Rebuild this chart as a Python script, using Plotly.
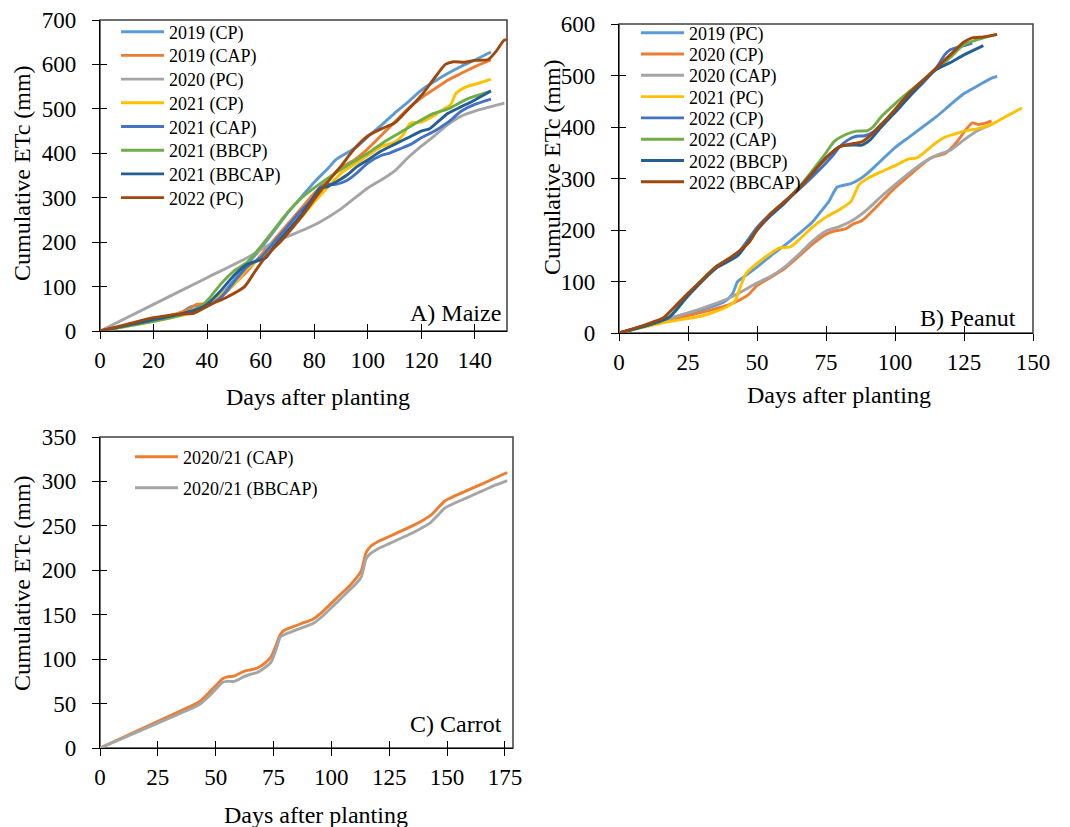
import plotly.graph_objects as go

# ---------------- Panel A: Maize ----------------
maize_2019_cp_day = [0, 10, 20, 30, 34, 38, 45, 50, 55, 60, 65, 70, 75, 80, 85, 88, 92, 96, 100, 105, 110, 115, 120, 125, 130, 135, 140, 146]
maize_2019_cp_etc = [0, 12, 25, 40, 55, 58, 80, 115, 150, 185, 225, 265, 300, 335, 365, 385, 400, 415, 437, 463, 490, 515, 542, 562, 580, 596, 610, 628]

maize_2019_cap_day = [0, 20, 33, 36, 40, 45, 50, 55, 60, 65, 70, 75, 80, 85, 90, 95, 100, 105, 110, 115, 120, 125, 130, 135, 140, 146]
maize_2019_cap_etc = [0, 25, 48, 60, 62, 75, 105, 135, 170, 205, 240, 275, 310, 340, 368, 385, 410, 440, 470, 500, 525, 545, 565, 580, 595, 610]

maize_2020_pc_day = [0, 20, 40, 55, 65, 75, 82, 90, 100, 105, 110, 115, 120, 125, 130, 135, 140, 146, 151]
maize_2020_pc_etc = [0, 60, 120, 165, 200, 225, 245, 275, 322, 340, 360, 390, 416, 440, 465, 484, 495, 505, 513]

maize_2021_cp_day = [0, 20, 35, 40, 45, 50, 55, 60, 65, 70, 75, 80, 83, 86, 90, 95, 100, 105, 110, 113, 116, 120, 124, 128, 131, 133, 137, 141, 146]
maize_2021_cp_etc = [0, 22, 42, 58, 80, 105, 140, 165, 195, 225, 255, 290, 310, 330, 355, 375, 395, 415, 425, 440, 468, 470, 482, 498, 510, 535, 550, 557, 567]

maize_2021_cap_day = [0, 20, 35, 40, 45, 50, 55, 60, 65, 70, 75, 80, 82, 85, 88, 92, 96, 100, 105, 108, 112, 116, 120, 125, 130, 135, 140, 146]
maize_2021_cap_etc = [0, 25, 45, 55, 75, 110, 145, 165, 200, 235, 270, 300, 322, 330, 330, 338, 356, 378, 395, 400, 410, 420, 435, 450, 470, 495, 510, 522]

maize_2021_bbcp_day = [0, 20, 30, 38, 41, 45, 50, 55, 60, 65, 70, 75, 80, 87, 93, 100, 106, 112, 118, 124, 130, 137, 146]
maize_2021_bbcp_etc = [0, 22, 35, 57, 75, 105, 135, 155, 190, 228, 266, 298, 322, 352, 375, 400, 425, 446, 468, 488, 500, 522, 540]

maize_2021_bbcap_day = [0, 20, 30, 36, 40, 45, 50, 55, 60, 62, 65, 70, 75, 79, 82, 85, 88, 92, 96, 100, 105, 110, 115, 120, 123, 126, 130, 135, 140, 146]
maize_2021_bbcap_etc = [0, 25, 38, 48, 60, 90, 125, 150, 160, 165, 190, 225, 260, 295, 320, 325, 335, 350, 370, 385, 405, 420, 435, 450, 455, 470, 490, 505, 520, 540]

maize_2022_pc_day = [0, 10, 20, 30, 35, 41, 47, 54, 58, 62, 68, 75, 80, 85, 90, 95, 100, 105, 110, 115, 120, 125, 129, 132, 136, 140, 145, 148, 151, 152]
maize_2022_pc_etc = [0, 15, 30, 38, 40, 59, 75, 100, 135, 168, 205, 255, 296, 335, 371, 410, 439, 455, 468, 498, 530, 570, 600, 606, 605, 609, 611, 630, 655, 655]

# ---------------- Panel B: Peanut ----------------
peanut_2019_pc_day = [0, 18, 30, 38, 41, 43, 45, 50, 55, 60, 65, 70, 73, 76, 79, 84, 87, 90, 95, 100, 105, 110, 115, 120, 125, 130, 135, 137]
peanut_2019_pc_etc = [0, 28, 45, 60, 75, 100, 108, 128, 150, 170, 192, 215, 235, 255, 283, 290, 298, 310, 335, 360, 380, 400, 420, 443, 465, 480, 495, 498]

peanut_2020_cp_day = [0, 18, 30, 40, 43, 47, 50, 55, 60, 65, 70, 75, 78, 82, 85, 88, 92, 96, 100, 105, 110, 113, 116, 118, 120, 123, 125, 128, 130, 133, 135]
peanut_2020_cp_etc = [0, 25, 40, 55, 62, 75, 92, 108, 125, 148, 172, 192, 198, 202, 212, 218, 238, 260, 282, 305, 328, 340, 345, 348, 357, 375, 390, 408, 405, 408, 412]

peanut_2020_cap_day = [0, 18, 30, 40, 45, 50, 55, 60, 65, 70, 75, 80, 85, 90, 95, 100, 105, 110, 115, 120, 125, 130, 135]
peanut_2020_cap_etc = [0, 28, 48, 68, 82, 97, 110, 128, 152, 178, 198, 207, 220, 240, 265, 288, 310, 330, 345, 355, 375, 393, 405]

peanut_2021_pc_day = [0, 18, 30, 38, 42, 44, 46, 50, 55, 58, 62, 65, 70, 75, 80, 84, 87, 90, 95, 100, 105, 108, 110, 115, 118, 122, 125, 130, 135, 140, 146]
peanut_2021_pc_etc = [0, 22, 33, 48, 62, 90, 115, 135, 155, 165, 167, 180, 205, 225, 240, 255, 288, 300, 313, 325, 338, 340, 348, 370, 380, 387, 392, 397, 405, 420, 437]

peanut_2022_cp_day = [0, 18, 25, 35, 43, 50, 55, 60, 65, 70, 75, 78, 80, 83, 86, 89, 92, 95, 100, 105, 110, 115, 118, 120, 125, 128]
peanut_2022_cp_etc = [0, 30, 75, 128, 155, 205, 232, 255, 278, 303, 330, 348, 362, 375, 382, 383, 390, 405, 430, 458, 485, 515, 540, 550, 558, 563]

peanut_2022_cap_day = [0, 18, 25, 35, 43, 50, 55, 60, 65, 70, 75, 78, 82, 86, 90, 92, 95, 100, 105, 110, 115, 120, 125, 130, 137]
peanut_2022_cap_etc = [0, 30, 75, 128, 152, 200, 232, 255, 282, 315, 350, 372, 385, 392, 393, 400, 420, 445, 468, 490, 512, 535, 560, 570, 580]

peanut_2022_bbcp_day = [0, 18, 25, 35, 43, 50, 55, 60, 65, 70, 75, 80, 85, 88, 91, 95, 100, 105, 110, 115, 120, 125, 132]
peanut_2022_bbcp_etc = [0, 30, 72, 125, 150, 200, 228, 252, 280, 310, 340, 362, 365, 365, 375, 400, 428, 458, 488, 512, 525, 540, 558]

peanut_2022_bbcap_day = [0, 10, 16, 20, 25, 30, 35, 41, 47, 50, 55, 60, 65, 70, 75, 80, 85, 88, 92, 96, 100, 105, 110, 115, 120, 125, 128, 132, 137]
peanut_2022_bbcap_etc = [0, 17, 29, 50, 77, 102, 128, 149, 175, 200, 232, 255, 280, 310, 340, 362, 368, 371, 388, 410, 434, 465, 490, 515, 540, 565, 573, 575, 580]

# ---------------- Panel C: Carrot ----------------
carrot_cap_day = [0, 25, 40, 43, 47, 50, 53, 55, 58, 62, 65, 68, 71, 74, 76, 78, 80, 84, 88, 92, 96, 100, 104, 108, 111, 113, 114, 115, 117, 120, 125, 130, 135, 140, 143, 146, 149, 152, 158, 165, 170, 176]
carrot_cap_etc = [0, 30, 48, 52, 62, 70, 78, 80, 81, 86, 88, 90, 95, 103, 115, 128, 133, 137, 141, 145, 153, 163, 173, 183, 192, 200, 210, 220, 227, 232, 238, 244, 250, 257, 262, 270, 278, 282, 289, 297, 303, 310]

carrot_bbcap_day = [0, 25, 40, 43, 47, 50, 53, 55, 58, 62, 65, 68, 71, 74, 76, 78, 80, 84, 88, 92, 96, 100, 104, 108, 111, 113, 114, 115, 117, 120, 125, 130, 135, 140, 143, 146, 149, 152, 158, 165, 170, 176]
carrot_bbcap_etc = [0, 28, 45, 49, 58, 66, 74, 75, 75, 80, 83, 85, 90, 97, 110, 125, 128, 132, 136, 140, 148, 158, 168, 178, 186, 193, 203, 213, 219, 224, 230, 236, 242, 249, 254, 262, 270, 274, 281, 289, 295, 301]

# ---------------- styles ----------------
C_LBLUE = "#5B9BD5"
C_ORANGE = "#ED7D31"
C_GRAY = "#A5A5A5"
C_GOLD = "#FFC000"
C_BLUE = "#4472C4"
C_GREEN = "#70AD47"
C_DBLUE = "#255E91"
C_BROWN = "#9E480E"

FONT = "Liberation Serif, Times New Roman, serif"
W, H = 1070, 827

panel_a = [
    ("2019 (CP)", maize_2019_cp_day, maize_2019_cp_etc, C_LBLUE),
    ("2019 (CAP)", maize_2019_cap_day, maize_2019_cap_etc, C_ORANGE),
    ("2020 (PC)", maize_2020_pc_day, maize_2020_pc_etc, C_GRAY),
    ("2021 (CP)", maize_2021_cp_day, maize_2021_cp_etc, C_GOLD),
    ("2021 (CAP)", maize_2021_cap_day, maize_2021_cap_etc, C_BLUE),
    ("2021 (BBCP)", maize_2021_bbcp_day, maize_2021_bbcp_etc, C_GREEN),
    ("2021 (BBCAP)", maize_2021_bbcap_day, maize_2021_bbcap_etc, C_DBLUE),
    ("2022 (PC)", maize_2022_pc_day, maize_2022_pc_etc, C_BROWN),
]
panel_b = [
    ("2019 (PC)", peanut_2019_pc_day, peanut_2019_pc_etc, C_LBLUE),
    ("2020 (CP)", peanut_2020_cp_day, peanut_2020_cp_etc, C_ORANGE),
    ("2020 (CAP)", peanut_2020_cap_day, peanut_2020_cap_etc, C_GRAY),
    ("2021 (PC)", peanut_2021_pc_day, peanut_2021_pc_etc, C_GOLD),
    ("2022 (CP)", peanut_2022_cp_day, peanut_2022_cp_etc, C_BLUE),
    ("2022 (CAP)", peanut_2022_cap_day, peanut_2022_cap_etc, C_GREEN),
    ("2022 (BBCP)", peanut_2022_bbcp_day, peanut_2022_bbcp_etc, C_DBLUE),
    ("2022 (BBCAP)", peanut_2022_bbcap_day, peanut_2022_bbcap_etc, C_BROWN),
]
panel_c = [
    ("2020/21 (CAP)", carrot_cap_day, carrot_cap_etc, C_ORANGE),
    ("2020/21 (BBCAP)", carrot_bbcap_day, carrot_bbcap_etc, C_GRAY),
]

def px_x(p):
    return p / W

def px_y(p):
    return 1 - p / H

fig = go.Figure()
legend_layouts = {}
legend_count = [0]

def legend_name():
    legend_count[0] += 1
    return "legend" if legend_count[0] == 1 else f"legend{legend_count[0]}"

LEG_TEXT_OFFSET = 52   # px from legend x to start of its text

def add_series(series, xa, ya, text_x, first_y, step):
    for i, (name, xs, ys, col) in enumerate(series):
        lg = legend_name()
        fig.add_trace(go.Scatter(
            x=xs, y=ys, name=name, mode="lines",
            line=dict(color=col, width=2.9, shape="spline", smoothing=0.6),
            xaxis=xa, yaxis=ya, legend=lg,
        ))
        legend_layouts[lg] = dict(
            x=px_x(text_x - LEG_TEXT_OFFSET), y=px_y(first_y + i * step),
            xanchor="left", yanchor="middle",
            font=dict(family=FONT, size=18, color="black"),
            bgcolor="rgba(0,0,0,0)", borderwidth=0, itemwidth=43,
        )

add_series(panel_a, "x", "y", 168, 32, 23.7)
add_series(panel_b, "x2", "y2", 688, 33, 21.3)
add_series(panel_c, "x3", "y3", 182, 457, 31)

# dummy traces so the overlay (inside-tick) axes get drawn
for xa, ya in [("x4", "y4"), ("x5", "y5"), ("x6", "y6")]:
    fig.add_trace(go.Scatter(x=[None], y=[None], xaxis=xa, yaxis=ya, showlegend=False, hoverinfo="skip"))

tickfont = dict(family=FONT, size=23, color="black")

def axis(rng, dtick, dom, anchor, standoff, ticks="outside", labels=True, overlay=None):
    d = dict(range=rng, dtick=dtick, tick0=0, domain=dom, anchor=anchor,
             showgrid=False, zeroline=False, showline=True, linecolor="black", linewidth=1.2,
             ticks=ticks, ticklen=7, tickwidth=1.2, tickcolor="black",
             showticklabels=labels, tickfont=tickfont, ticklabelstandoff=standoff,
             automargin=False, fixedrange=True)
    if overlay:
        d["overlaying"] = overlay
    return d

# panel domains (pixels)
A_x = [px_x(100), px_x(507)]; A_y = [px_y(331), px_y(20)]
B_x = [px_x(619), px_x(1033)]; B_y = [px_y(333), px_y(24)]
C_x = [px_x(100), px_x(513)]; C_y = [px_y(748), px_y(437)]

fig.update_layout(
    template="none",
    width=W, height=H, margin=dict(l=0, r=0, t=0, b=0, autoexpand=False),
    paper_bgcolor="white", plot_bgcolor="rgba(0,0,0,0)",
    font=dict(family=FONT, color="black"),
    xaxis=axis([0, 152], 20, A_x, "y", 1),
    yaxis=axis([0, 700], 100, A_y, "x", 11),
    xaxis2=axis([0, 150], 25, B_x, "y2", 1),
    yaxis2=axis([0, 600], 100, B_y, "x2", 11),
    xaxis3=axis([0, 178.5], 25, C_x, "y3", 1),
    yaxis3=axis([0, 350], 50, C_y, "x3", 11),
    xaxis4=axis([0, 152], 20, A_x, "y4", 0, ticks="inside", labels=False, overlay="x"),
    yaxis4=axis([0, 700], 100, A_y, "x4", 0, ticks="inside", labels=False, overlay="y"),
    xaxis5=axis([0, 150], 25, B_x, "y5", 0, ticks="inside", labels=False, overlay="x2"),
    yaxis5=axis([0, 600], 100, B_y, "x5", 0, ticks="inside", labels=False, overlay="y2"),
    xaxis6=axis([0, 178.5], 25, C_x, "y6", 0, ticks="inside", labels=False, overlay="x3"),
    yaxis6=axis([0, 350], 50, C_y, "x6", 0, ticks="inside", labels=False, overlay="y3"),
    showlegend=True,
    **legend_layouts,
)

# frames (top/right borders)
for xr, yr in [("x", "y"), ("x2", "y2"), ("x3", "y3")]:
    fig.add_shape(type="rect", xref=f"{xr} domain", yref=f"{yr} domain",
                  x0=0, x1=1, y0=0, y1=1, line=dict(color="#404040", width=1.5), layer="below")

ann_font = dict(family=FONT, size=24, color="black")
annotations = [
    dict(text="A) Maize", x=px_x(503), y=px_y(313)),
    dict(text="B) Peanut", x=px_x(1018), y=px_y(318)),
    dict(text="C) Carrot", x=px_x(504), y=px_y(724)),
]
for a in annotations:
    fig.add_annotation(xref="paper", yref="paper", xanchor="right", yanchor="middle",
                       showarrow=False, font=ann_font, **a)

titles = [
    dict(text="Days after planting", x=px_x(318), y=px_y(397), textangle=0),
    dict(text="Days after planting", x=px_x(839), y=px_y(395), textangle=0),
    dict(text="Days after planting", x=px_x(316), y=px_y(815), textangle=0),
    dict(text="Cumulative ETc (mm)", x=px_x(22), y=px_y(173), textangle=-90),
    dict(text="Cumulative ETc (mm)", x=px_x(552), y=px_y(167), textangle=-90),
    dict(text="Cumulative ETc (mm)", x=px_x(22), y=px_y(583), textangle=-90),
]
for t in titles:
    fig.add_annotation(xref="paper", yref="paper", xanchor="center", yanchor="middle",
                       showarrow=False, font=ann_font, **t)

fig.write_html("out.html")
